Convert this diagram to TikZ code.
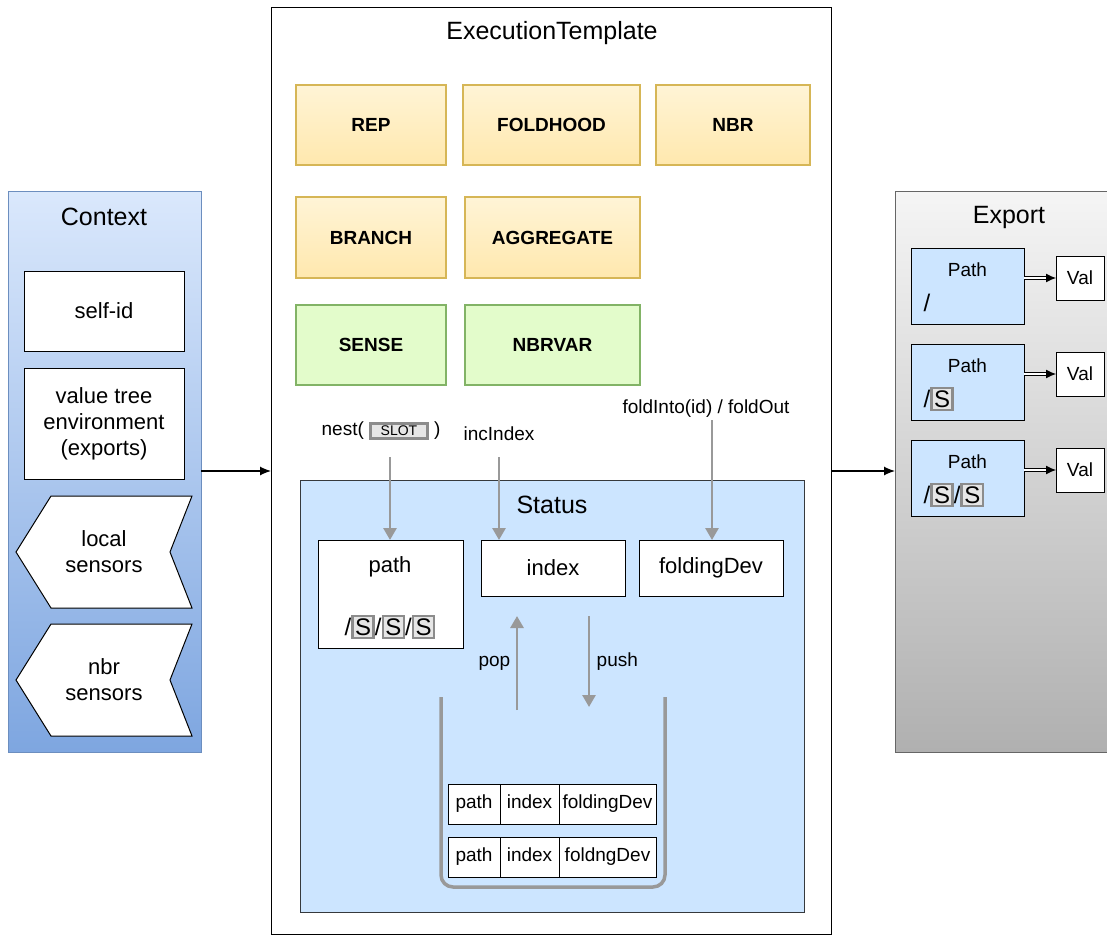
\documentclass[tikz,border=0pt]{standalone}
\usepackage{fontspec}
\setmainfont{Liberation Sans}
\usetikzlibrary{arrows.meta,positioning}

\definecolor{ctxtop}{HTML}{DAE8FC}
\definecolor{ctxbot}{HTML}{7EA6E0}
\definecolor{ctxline}{HTML}{6C8EBF}
\definecolor{optop}{HTML}{FFF4D6}
\definecolor{opbot}{HTML}{FFE8AE}
\definecolor{opline}{HTML}{D6B656}
\definecolor{senfill}{HTML}{E3FCCB}
\definecolor{senline}{HTML}{82B366}
\definecolor{statfill}{HTML}{CCE5FF}
\definecolor{statline}{HTML}{36393D}
\definecolor{exptop}{HTML}{F5F5F5}
\definecolor{expbot}{HTML}{B0B0B0}
\definecolor{expline}{HTML}{666666}
\definecolor{flowgray}{HTML}{999999}
\definecolor{slotfill}{HTML}{E6E6E6}
\definecolor{slotline}{HTML}{8C8C8C}

\newcommand{\slotbox}[1]{{\setlength{\fboxrule}{2.4pt}\setlength{\fboxsep}{1.4pt}\fcolorbox{slotline}{slotfill}{#1}}}

\tikzstyle{box}      = [draw, fill=white, line width=1pt, inner sep=0pt, outer sep=0pt, anchor=north west, align=center]
\tikzstyle{opbox}    = [box, draw=opline, line width=2pt, top color=optop, bottom color=opbot]
\tikzstyle{senbox}   = [box, draw=senline, line width=2pt, fill=senfill]
\tikzstyle{title}    = [font=\fontsize{25}{29}\selectfont]
\tikzstyle{txt}      = [font=\fontsize{22}{26}\selectfont, align=center]
\tikzstyle{optxt}    = [font=\fontsize{19}{22}\selectfont\bfseries]
\tikzstyle{lbl}      = [font=\fontsize{19}{22}\selectfont]
\tikzstyle{cell}     = [draw, fill=white, line width=1pt, minimum height=40pt, inner sep=0pt, outer sep=0pt, text height=13pt, text depth=4pt, font=\fontsize{19}{22}\selectfont]
\tikzstyle{flow}     = [draw=flowgray, line width=2.8pt, -{Triangle[width=13pt,length=12pt]}]
\tikzstyle{arrow}    = [line width=1.2pt, -{Latex[length=11pt,width=9pt]}]
\tikzstyle{link}     = [double, double distance=1.8pt, line width=1pt, -{Latex[length=10pt,width=9pt]}]

\begin{document}
\begin{tikzpicture}[x=1pt,y=-1pt]
	\useasboundingbox (0,0) rectangle (1107,936);

	% context
	\node[box, draw=ctxline, top color=ctxtop, bottom color=ctxbot, minimum width=193pt, minimum height=561pt] (ctx) at (8,191) {};
	\node[title] (ctxt) at (104,217) {Context};
	\node[box, minimum width=160pt, minimum height=80pt] (selfid) at (24,271) {};
	\node[txt] at (selfid.center) {self-id};
	\node[box, minimum width=160pt, minimum height=111pt] (vtree) at (24,368) {};
	\node[txt] at (vtree.center) {value tree\\environment\\(exports)};
	\draw[fill=white, line width=1pt] (51,496) -- (192,496) -- (170,552) -- (192,608) -- (51,608) -- (16,552) -- cycle;
	\node[txt] (local) at (104,552) {local\\sensors};
	\draw[fill=white, line width=1pt] (51,624) -- (192,624) -- (170,680) -- (192,736) -- (51,736) -- (16,680) -- cycle;
	\node[txt] (nbrsens) at (104,680) {nbr\\sensors};

	% execution template
	\node[box, minimum width=560pt, minimum height=926pt] (exec) at (271,8) {};
	\node[title] at (552,33) {ExecutionTemplate};

	\node[opbox, minimum width=150pt, minimum height=80pt] (rep) at (296,85) {};
	\node[optxt] at (rep.center) {REP};
	\node[opbox, minimum width=177pt, minimum height=80pt] (foldhood) at (463,85) {};
	\node[optxt] at (foldhood.center) {FOLDHOOD};
	\node[opbox, minimum width=154pt, minimum height=80pt] (nbr) at (656,85) {};
	\node[optxt] at (nbr.center) {NBR};
	\node[opbox, minimum width=150pt, minimum height=81pt] (branch) at (296,197) {};
	\node[optxt] at (branch.center) {BRANCH};
	\node[opbox, minimum width=175pt, minimum height=81pt] (aggregate) at (465,197) {};
	\node[optxt] at (aggregate.center) {AGGREGATE};
	\node[senbox, minimum width=150pt, minimum height=80pt] (sense) at (296,305) {};
	\node[optxt] at (sense.center) {SENSE};
	\node[senbox, minimum width=175pt, minimum height=80pt] (nbrvar) at (465,305) {};
	\node[optxt] at (nbrvar.center) {NBRVAR};

	\node[lbl] (nest) at (381,431) {nest( \slotbox{\makebox[52pt]{\fontsize{14}{16}\selectfont SLOT}} )};
	\node[lbl] (incidx) at (499,434) {incIndex};
	\node[lbl] (foldinto) at (706,409) {foldInto(id) / foldOut};

	% status
	\node[box, draw=statline, fill=statfill, minimum width=504pt, minimum height=432pt] (status) at (300,480) {};
	\node[title] at (552,505) {Status};

	\node[box, minimum width=145pt, minimum height=108pt] (path) at (318,540) {};
	\node[txt] at (390,567) {path};
	\node[font=\fontsize{24}{28}\selectfont] at (390,627) {/\slotbox{S}/\slotbox{S}/\slotbox{S}};
	\node[box, minimum width=144pt, minimum height=56pt] (index) at (481,540) {};
	\node[txt] at (index.center) {index};
	\node[box, minimum width=144pt, minimum height=56pt] (folddev) at (639,540) {};
	\node[txt] at (folddev.center) {foldingDev};

	\coordinate (nestend) at (390,457);
	\coordinate (incend) at (499,457);
	\coordinate (foldend) at (712,420);
	\draw[flow] (nestend) -- (path.north -| nestend);
	\draw[flow] (incend) -- (index.north -| incend);
	\draw[flow] (foldend) -- (folddev.north -| foldend);

	\coordinate (popstart) at (517,710);
	\coordinate (popend) at (517,616);
	\coordinate (pushstart) at (589,616);
	\coordinate (pushend) at (589,707);
	\draw[flow] (popstart) -- (popend) node[pos=0.5, left=2pt, lbl, text=black] {pop};
	\draw[flow] (pushstart) -- (pushend) node[pos=0.5, right=3pt, lbl, text=black] {push};

	% stack
	\draw[flowgray, line width=3.5pt, rounded corners=12pt] (441,697) -- (441,887) -- (665,887) -- (665,697);
	\node[cell, minimum width=52pt, anchor=north west] (p1) at (448,784) {path};
	\node[cell, minimum width=59pt, right=0pt of p1] (i1) {index};
	\node[cell, minimum width=97pt, right=0pt of i1] (f1) {foldingDev};
	\node[cell, minimum width=52pt, anchor=north west] (p2) at (448,837) {path};
	\node[cell, minimum width=59pt, right=0pt of p2] (i2) {index};
	\node[cell, minimum width=97pt, right=0pt of i2] (f2) {foldngDev};

	% export
	\node[box, draw=expline, top color=exptop, bottom color=expbot, minimum width=216pt, minimum height=561pt] (export) at (895,191) {};
	\node[title] at (1009,217) {Export};
	\foreach \i/\yy/\p in {1/248/{/},2/344/{/\slotbox{S}},3/440/{/\slotbox{S}/\slotbox{S}}} {
		\node[box, fill=statfill, minimum width=113pt, minimum height=76pt] (ep\i) at (911,\yy) {};
		\node[lbl] at ([yshift=-22pt]ep\i.north) {Path};
		\node[font=\fontsize{24}{28}\selectfont, anchor=west] at ([xshift=9pt,yshift=-17pt]ep\i.west) {\p};
		\node[box, minimum width=48pt, minimum height=44pt] (ev\i) at (1056,\yy+8) {};
		\node[lbl] at (ev\i.center) {Val};
		\draw[link] (ep\i.east |- ev\i.west) -- (ev\i.west);
	}

	% main flow
	\draw[arrow] (ctx.east |- 0,471) -- (exec.west |- 0,471);
	\draw[arrow] (exec.east |- 0,471) -- (export.west |- 0,471);
\end{tikzpicture}
\end{document}
